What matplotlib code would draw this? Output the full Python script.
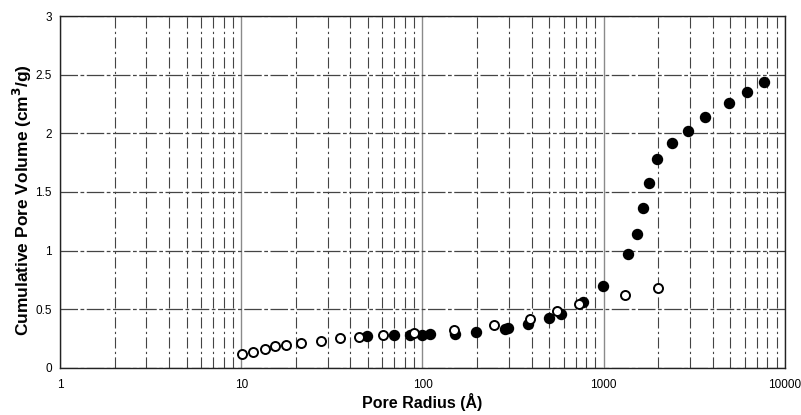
import matplotlib
matplotlib.use("Agg")
import matplotlib.pyplot as plt
from matplotlib.ticker import LogLocator, FixedLocator, NullFormatter

plt.rcParams['font.family'] = ['Liberation Sans', 'DejaVu Sans']

# Open circles series
open_x = [10.1, 11.6, 13.5, 15.3, 17.7, 21.3, 27.6, 35.1, 44.5, 60.2, 90.3,
          149, 249, 394, 550, 727, 1309, 1982]
open_y = [0.119, 0.136, 0.162, 0.185, 0.199, 0.216, 0.233, 0.258, 0.267, 0.279,
          0.301, 0.327, 0.369, 0.42, 0.486, 0.548, 0.619, 0.685]

# Filled circles series
fill_x = [49.6, 69.2, 84.8, 99.2, 110, 152, 198, 287, 298, 382, 497, 581, 771,
          990, 1364, 1523, 1657, 1775, 1964, 2393, 2909, 3640, 4893, 6150, 7690]
fill_y = [0.272, 0.278, 0.281, 0.281, 0.287, 0.290, 0.307, 0.335, 0.344, 0.372,
          0.423, 0.46, 0.56, 0.696, 0.974, 1.144, 1.366, 1.576, 1.778, 1.919,
          2.019, 2.138, 2.255, 2.354, 2.434]

y_ticks = [0, 0.5, 1, 1.5, 2, 2.5, 3]
y_tick_labels = ['0', '0.5', '1', '1.5', '2', '2.5', '3']
x_ticks = [1, 10, 100, 1000, 10000]
x_tick_labels = ['1', '10', '100', '1000', '10000']

fig = plt.figure(figsize=(8.01, 4.15), dpi=100)
ax = fig.add_axes([0.0749, 0.1133, 0.9051, 0.8481])
ax.set_xscale('log')
ax.set_xlim(1, 10000)
ax.set_ylim(0, 3)

ax.set_xticks(x_ticks)
ax.set_xticklabels(x_tick_labels)
ax.xaxis.set_minor_locator(LogLocator(base=10, subs=range(2, 10), numticks=20))
ax.xaxis.set_minor_formatter(NullFormatter())
ax.set_yticks(y_ticks)
ax.set_yticklabels(y_tick_labels)

ax.grid(True, which='major', axis='x', color='#8a8a8a', linewidth=1.0, linestyle='-')
ax.grid(True, which='minor', axis='x', color='#444444', linewidth=0.8,
        linestyle=(0, (10, 3, 2, 3)))
ax.grid(True, which='major', axis='y', color='#444444', linewidth=0.9,
        linestyle=(0, (14, 2, 3, 2)))
ax.set_axisbelow(True)

ax.plot(fill_x, fill_y, linestyle='none', marker='o', markersize=7.2,
        markerfacecolor='black', markeredgecolor='black', zorder=3)
ax.plot(open_x, open_y, linestyle='none', marker='o', markersize=6.5,
        markerfacecolor='white', markeredgecolor='black', markeredgewidth=1.4, zorder=4)

ax.tick_params(axis='both', which='both', length=0, labelsize=8.5, pad=6)
ax.tick_params(axis='x', pad=8)
for s in ax.spines.values():
    s.set_color('#222222')
    s.set_linewidth(1.0)

ax.set_xlabel('Pore Radius (Å)', fontsize=11.5, fontweight='bold')
ax.xaxis.set_label_coords(0.5, -0.097)
ax.xaxis.label.set_va('center')
ax.set_ylabel('Cumulative Pore Volume (cm$^\\mathbf{3}$/g)', fontsize=12.5,
              fontweight='bold')
ax.yaxis.set_label_coords(-0.052, 0.477)
ax.yaxis.label.set_va('center')

fig.savefig('out.png', dpi=100)
